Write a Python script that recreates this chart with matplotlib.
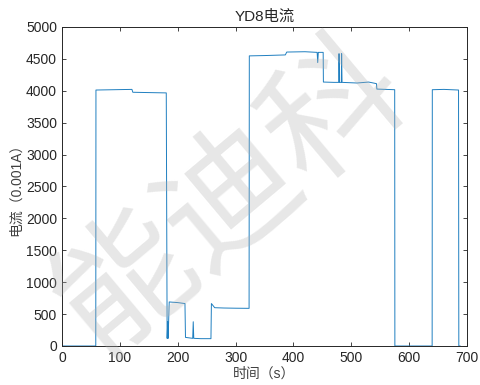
import matplotlib
matplotlib.use("Agg")
import matplotlib.pyplot as plt

plt.rcParams['font.family'] = ['Liberation Sans', 'Noto Sans CJK SC', 'DejaVu Sans']

# time (s) and current (0.001A)
t = [0, 58.5, 58.8, 90, 121, 122.5, 150, 180.3, 181.8, 182.8, 183.5, 185.4,
     200, 212.6, 213.5, 226, 226.9, 227.8, 240, 257.5, 258.3, 264, 280, 300,
     323.4, 323.8, 350, 386, 388.5, 420, 441, 442, 443, 451.4, 451.8, 470,
     478.3, 478.8, 479.5, 482.8, 483.3, 484, 510, 530, 543.5, 544.2, 560,
     575, 575.3, 600, 639.7, 640, 660, 685.3, 685.8, 688]
y = [0, 0, 4010, 4015, 4020, 3975, 3970, 3965, 120, 380, 120, 690,
     680, 665, 135, 120, 380, 120, 115, 115, 665, 600, 595, 592,
     590, 4545, 4550, 4560, 4605, 4610, 4600, 4440, 4600, 4600, 4135, 4130,
     4130, 4580, 4130, 4130, 4580, 4130, 4120, 4135, 4110, 4025, 4020,
     4015, 0, 0, 0, 4015, 4020, 4010, 0, 0]

fig = plt.figure(figsize=(4.8, 3.85), dpi=100)
ax = fig.add_axes([0.129, 0.1013, 0.844, 0.829])
ax.plot(t, y, color='#1f7fc0', lw=0.7)
ax.set_xlim(0, 700)
ax.set_ylim(0, 5000)
ax.set_xticks(range(0, 701, 100))
ax.set_yticks(range(0, 5001, 500))
ax.tick_params(direction='in', top=True, right=True, labelsize=10,
               colors='#262626', length=3, width=0.6)
for s in ax.spines.values():
    s.set_color('#262626')
    s.set_linewidth(0.7)
ax.set_title('YD8电流', fontsize=11, color='#262626', pad=4)
ax.set_xlabel('时间（s）', fontsize=10, color='#404040', labelpad=1)
ax.set_ylabel('电流（0.001A）', fontsize=10, color='#404040', labelpad=2)

# watermark
fig.text(0.48, 0.49, '能迪科', fontsize=98, fontweight='medium', color='#b0b0b0',
         alpha=0.3, rotation=40, ha='center', va='center',
         family=['Noto Sans CJK SC'])

fig.savefig('out.png', dpi=100)
